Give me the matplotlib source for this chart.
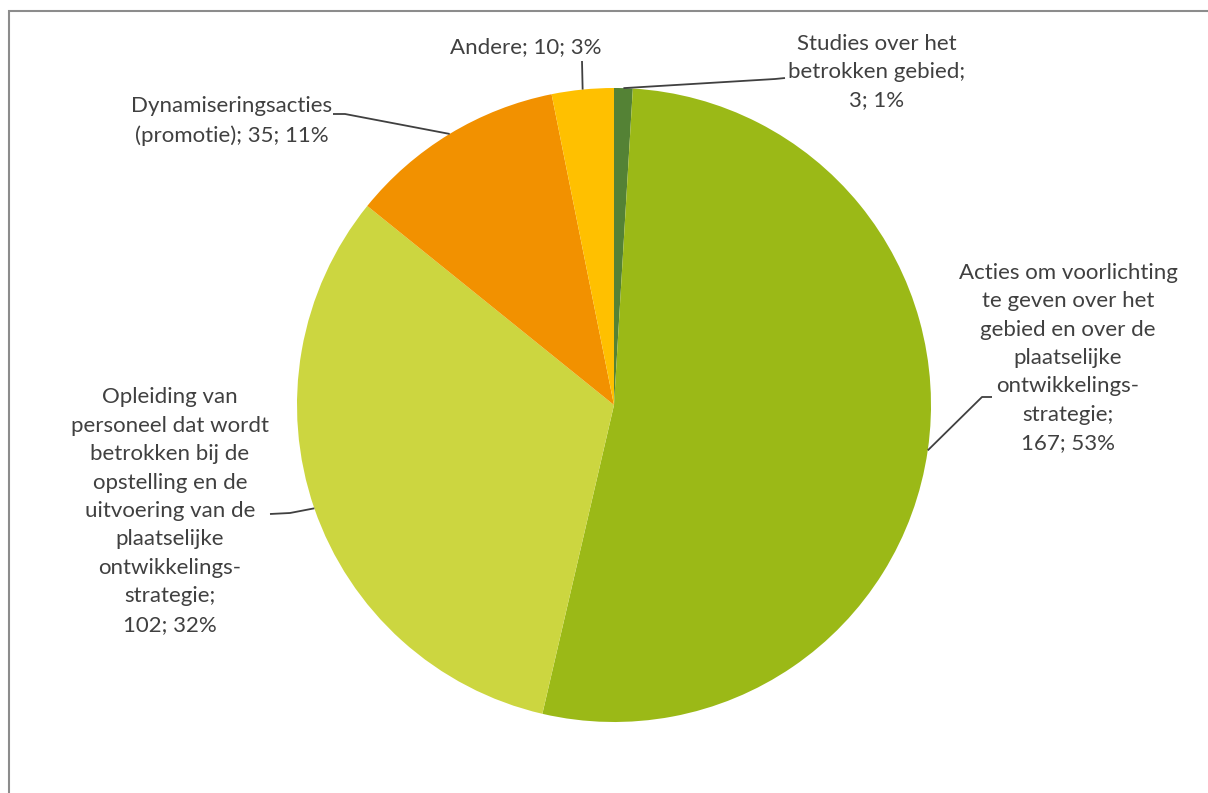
import numpy as np
import matplotlib.pyplot as plt
from matplotlib.patches import Rectangle

# slices, clockwise from 12 o'clock
labels = [
    "Studies over het\nbetrokken gebied;\n3; 1%",
    "Acties om voorlichting\nte geven over het\ngebied en over de\nplaatselijke\nontwikkelings-\nstrategie;\n167; 53%",
    "Opleiding van\npersoneel dat wordt\nbetrokken bij de\nopstelling en de\nuitvoering van de\nplaatselijke\nontwikkelings-\nstrategie;\n102; 32%",
    "Dynamiseringsacties\n(promotie); 35; 11%",
    "Andere; 10; 3%",
]
values = [3, 167, 102, 35, 10]
colors = ["#548235", "#9BB917", "#CCD640", "#F29100", "#FFC000"]

W, H = 1208, 793
cx, cy, r = 614, H - 405, 317

# label centres and elbow points of the leader lines (pixel layout, y from top)
label_pos = [(877, 72), (1068, 358), (170, 511), (232, 121), (526, 47)]
elbows = [
    [(785, 78), (775, 79)],
    [(992, 397), (982, 397)],
    [(270, 514), (290, 513)],
    [(333, 114), (345, 114)],
    [(582, 61), (582, 61)],
]

plt.rcParams['font.family'] = ['Lato', 'DejaVu Sans']
fig = plt.figure(figsize=(W / 100, H / 100), dpi=100)
ax = fig.add_axes([0, 0, 1, 1])

ax.pie(values, colors=colors, startangle=90, counterclock=False,
       center=(cx, cy), radius=r, wedgeprops=dict(linewidth=0))

ax.set_xlim(0, W)
ax.set_ylim(0, H)
ax.set_aspect('equal')
ax.axis('off')

# chart frame
ax.add_patch(Rectangle((8.5, -20), W + 20, H - 10.5 + 20, fill=False,
                       edgecolor="#8c8c8c", linewidth=1.5, clip_on=False))

total = sum(values)
cum = np.cumsum([0] + values)
text_color = "#404040"
for i, lab in enumerate(labels):
    mid = (cum[i] + values[i] / 2) / total * 2 * np.pi
    ax_x = cx + r * np.sin(mid)
    ax_y = cy + r * np.cos(mid)
    pts = [(x, H - y) for x, y in elbows[i]] + [(ax_x, ax_y)]
    xs, ys = zip(*pts)
    ax.plot(xs, ys, color=text_color, linewidth=1.3, solid_capstyle='butt')
    tx, ty = label_pos[i]
    ax.text(tx, H - ty, lab, ha='center', va='center', multialignment='center',
            fontsize=16, color=text_color, linespacing=1.53)

fig.savefig("out.png", dpi=100)
